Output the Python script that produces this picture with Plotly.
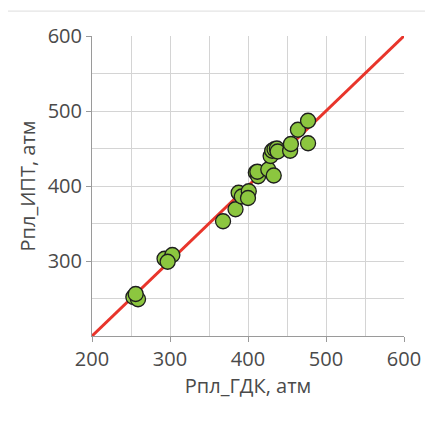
import plotly.graph_objects as go

gdk = [253, 259, 256, 293, 303, 297, 368, 384, 388, 392, 401, 400, 410, 413, 412, 426, 433, 429, 431, 434, 437, 438, 454, 455, 464, 477, 477]
ipt = [252, 249, 256, 303, 308, 299, 353, 369, 391, 386, 393, 384, 418, 413, 419, 422, 414, 440, 447, 449, 450, 446, 447, 456, 475, 487, 457]
line_x = [200, 600]
line_y = [200, 600]

fig = go.Figure()
fig.add_trace(go.Scatter(x=line_x, y=line_y, mode="lines",
                         line=dict(color="#E8352B", width=3), hoverinfo="skip"))
fig.add_trace(go.Scatter(x=gdk, y=ipt, mode="markers",
                         marker=dict(size=15, color="#8CC63F",
                                     line=dict(color="#1E1E1E", width=1.3))))

font = dict(family="Open Sans, Noto Sans, sans-serif", size=20, color="#4A4A4A")
fig.update_layout(
    width=425, height=420,
    margin=dict(l=84, r=27, t=28, b=92),
    paper_bgcolor="white", plot_bgcolor="white",
    showlegend=False,
    font=font,
    xaxis=dict(range=[200, 600], tickvals=[200, 300, 400, 500, 600],
               showgrid=True, gridcolor="#D4D4D4", gridwidth=1,
               minor=dict(dtick=50, showgrid=True, gridcolor="#D4D4D4", gridwidth=1),
               showline=True, linecolor="#9A9A9A", linewidth=1,
               ticks="outside", ticklen=5, tickcolor="#9A9A9A",
               zeroline=False, tickfont=font,
               title=dict(text="Рпл_ГДК, атм", font=font, standoff=4)),
    yaxis=dict(range=[200, 600], tickvals=[300, 400, 500, 600],
               showgrid=True, gridcolor="#D4D4D4", gridwidth=1,
               minor=dict(dtick=50, showgrid=True, gridcolor="#D4D4D4", gridwidth=1),
               showline=True, linecolor="#9A9A9A", linewidth=1,
               ticks="outside", ticklen=5, tickcolor="#9A9A9A",
               zeroline=False, tickfont=font,
               title=dict(text="Рпл_ИПТ, атм", font=font, standoff=6)),
    shapes=[dict(type="rect", xref="paper", yref="paper",
                 x0=-0.274, x1=1.2, y0=-0.4, y1=1.083,
                 line=dict(color="#DDDDDD", width=1), layer="below")],
)
fig.write_html("out.html")
